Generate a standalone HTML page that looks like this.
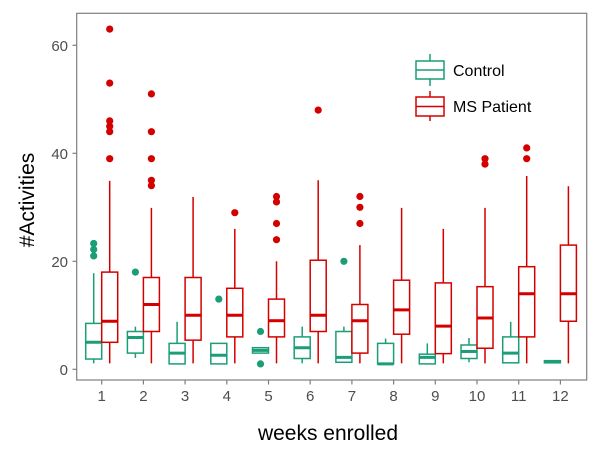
<!DOCTYPE html>
<html><head><meta charset="utf-8"><style>
body{margin:0;background:#fff}
svg{display:block;font-family:"Liberation Sans",Arial,sans-serif}
</style></head><body>
<svg id="chart" width="600" height="450">
<rect x="76.7" y="13.3" width="510" height="366.7" fill="#fff" stroke="#7f7f7f" stroke-width="1.2"/>
<g id="axes"></g><g id="marks"></g>
<text x="328" y="440" text-anchor="middle" font-size="21" fill="#000">weeks enrolled</text>
<text transform="translate(34,200) rotate(-90)" text-anchor="middle" font-size="21" fill="#000">#Activities</text>
<g>
<g>
<line x1="430" y1="54" x2="430" y2="86" stroke="#1b9e77" stroke-width="1.5"/>
<rect x="416" y="61" width="28" height="18" fill="#fff" stroke="#1b9e77" stroke-width="1.5"/>
<line x1="416" y1="70" x2="444" y2="70" stroke="#1b9e77" stroke-width="1.5"/>
<text x="453" y="76" font-size="16" fill="#000">Control</text></g>
<g>
<line x1="430" y1="91" x2="430" y2="121" stroke="#d40000" stroke-width="1.5"/>
<rect x="416" y="97" width="28" height="19" fill="#fff" stroke="#d40000" stroke-width="1.5"/>
<line x1="416" y1="106.5" x2="444" y2="106.5" stroke="#d40000" stroke-width="1.5"/>
<text x="453" y="112" font-size="16" fill="#000">MS Patient</text></g>
</g>
</svg>
<script>
const weeks=[1,2,3,4,5,6,7,8,9,10,11,12];
const yTicks=[0,20,40,60];
// [low, q1, median, q3, high]
const controlStats=[[1.1,1.9,5,8.5,17.8],[2.1,3,5.9,7,7.9],[1,1,3,4.8,8.8],[1,1,2.6,4.8,4.8],[3,3,3.5,4,4],[1.1,2,4,6,7.9],[1.3,1.3,2.2,7,7.9],[1,1,1,4.8,5.7],[1,1,2.2,2.8,4.8],[1.3,2,3.3,4.5,5.8],[1.2,1.2,3,6,8.8],[1.2,1.2,1.4,1.6,1.6]];
const controlOutliers=[[23.3,22.2,21],[18],[],[13],[7,1],[],[20],[],[],[],[],[]];
const msStats=[[1.1,5,8.9,18,34.9],[1.1,7,12,17,29.9],[1.1,5.4,10,17,31.9],[1.1,6,10,15,26],[1.1,6,9,13,20],[1.1,7,10,20.2,35],[1.1,3,9,12,23],[1.1,6.5,11,16.5,29.9],[1.1,2.9,8,16,26],[1.1,3.9,9.5,15.3,29.9],[1.1,6,14,19,35.8],[1.1,8.9,14,23,33.9]];
const msOutliers=[[63,53,46,45,44,39],[51,44,39,35,34],[],[29],[32,31,27,24],[48],[32,30,27],[],[],[39,38],[41,39],[]];
const X=w=>101.7+(w-1)*41.7;
const Y=v=>369.3-v*5.4;
const NS="http://www.w3.org/2000/svg";
function mk(tag,attrs,parent){const e=document.createElementNS(NS,tag);for(const k in attrs)e.setAttribute(k,attrs[k]);parent.appendChild(e);return e;}
const axes=document.getElementById('axes'),marks=document.getElementById('marks');
yTicks.forEach(t=>{
  const l=mk('line',{x1:72.5,x2:76.7,y1:Y(t),y2:Y(t),stroke:'#7f7f7f','stroke-width':1.2},axes);
  
  
  const tx=mk('text',{x:68,y:Y(t)+5.5,'text-anchor':'end','font-size':15,fill:'#4d4d4d'},axes);
  tx.textContent=t;
  
  
});
weeks.forEach(w=>{
  const l=mk('line',{x1:X(w),x2:X(w),y1:380,y2:384.5,stroke:'#7f7f7f','stroke-width':1.2},axes);
  
  
  const tx=mk('text',{x:X(w),y:401,'text-anchor':'middle','font-size':15,fill:'#4d4d4d'},axes);
  tx.textContent=w;
  
  
});
function box(w,s,outs,off,col,name){
  const cx=X(w)+off,hw=8;
  const g=mk('g',{},marks);
  
  
  mk('line',{x1:cx,x2:cx,y1:Y(s[0]),y2:Y(s[4]),stroke:col,'stroke-width':1.5},g);
  mk('rect',{x:cx-hw,y:Y(s[3]),width:2*hw,height:Math.max(Y(s[1])-Y(s[3]),0.5),fill:'#fff',stroke:col,'stroke-width':1.5},g);
  mk('line',{x1:cx-hw,x2:cx+hw,y1:Y(s[2]),y2:Y(s[2]),stroke:col,'stroke-width':3},g);
  outs.forEach(o=>{
    const c=mk('circle',{cx:cx,cy:Y(o),r:3.6,fill:col},g);
    
    
  });
}
weeks.forEach((w,i)=>{
  box(w,controlStats[i],controlOutliers[i],-8,'#1b9e77','control-box');
  box(w,msStats[i],msOutliers[i],8,'#d40000','ms-box');
});
</script>
</body></html>
